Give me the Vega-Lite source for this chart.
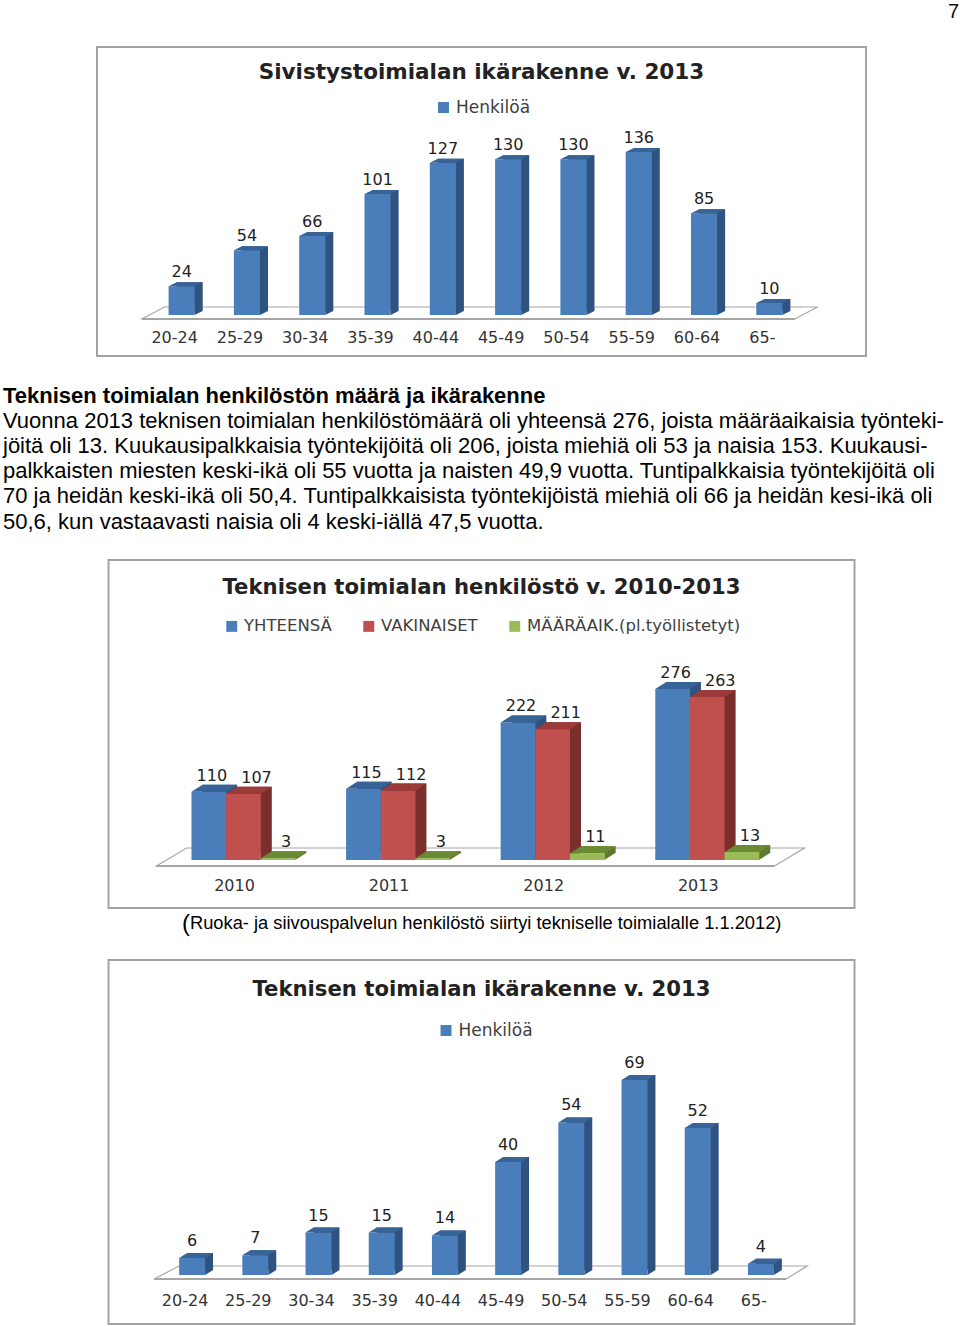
{"$schema":"https://vega.github.io/schema/vega-lite/v6.json","padding":{"left":3,"top":0,"right":0,"bottom":0},"center":true,"spacing":0,"bounds":"flush","background":"white","config":{"font":"DejaVu Sans"},
"resolve":{"scale":{"color":"independent"},"legend":{"color":"independent"}},
"datasets":{
"sivistys":[{"ika":"20-24","henkilot":24,"sarja":"Henkilöä"},{"ika":"25-29","henkilot":54,"sarja":"Henkilöä"},{"ika":"30-34","henkilot":66,"sarja":"Henkilöä"},{"ika":"35-39","henkilot":101,"sarja":"Henkilöä"},{"ika":"40-44","henkilot":127,"sarja":"Henkilöä"},{"ika":"45-49","henkilot":130,"sarja":"Henkilöä"},{"ika":"50-54","henkilot":130,"sarja":"Henkilöä"},{"ika":"55-59","henkilot":136,"sarja":"Henkilöä"},{"ika":"60-64","henkilot":85,"sarja":"Henkilöä"},{"ika":"65-","henkilot":10,"sarja":"Henkilöä"}],
"tekninen":[{"ika":"20-24","henkilot":6,"sarja":"Henkilöä"},{"ika":"25-29","henkilot":7,"sarja":"Henkilöä"},{"ika":"30-34","henkilot":15,"sarja":"Henkilöä"},{"ika":"35-39","henkilot":15,"sarja":"Henkilöä"},{"ika":"40-44","henkilot":14,"sarja":"Henkilöä"},{"ika":"45-49","henkilot":40,"sarja":"Henkilöä"},{"ika":"50-54","henkilot":54,"sarja":"Henkilöä"},{"ika":"55-59","henkilot":69,"sarja":"Henkilöä"},{"ika":"60-64","henkilot":52,"sarja":"Henkilöä"},{"ika":"65-","henkilot":4,"sarja":"Henkilöä"}],
"vuodet":[{"vuosi":"2010","sarja":"YHTEENSÄ","n":110},{"vuosi":"2010","sarja":"VAKINAISET","n":107},{"vuosi":"2010","sarja":"MÄÄRÄAIK.(pl.työllistetyt)","n":3},{"vuosi":"2011","sarja":"YHTEENSÄ","n":115},{"vuosi":"2011","sarja":"VAKINAISET","n":112},{"vuosi":"2011","sarja":"MÄÄRÄAIK.(pl.työllistetyt)","n":3},{"vuosi":"2012","sarja":"YHTEENSÄ","n":222},{"vuosi":"2012","sarja":"VAKINAISET","n":211},{"vuosi":"2012","sarja":"MÄÄRÄAIK.(pl.työllistetyt)","n":11},{"vuosi":"2013","sarja":"YHTEENSÄ","n":276},{"vuosi":"2013","sarja":"VAKINAISET","n":263},{"vuosi":"2013","sarja":"MÄÄRÄAIK.(pl.työllistetyt)","n":13}],
"rivit":[{"rivi":1,"teksti":"Teknisen toimialan henkilöstön määrä ja ikärakenne","paino":"b"},{"rivi":2,"teksti":"Vuonna 2013 teknisen toimialan henkilöstömäärä oli yhteensä 276, joista määräaikaisia työnteki-","paino":"n"},{"rivi":3,"teksti":"jöitä oli 13. Kuukausipalkkaisia työntekijöitä oli 206, joista miehiä oli 53 ja naisia 153. Kuukausi-","paino":"n"},{"rivi":4,"teksti":"palkkaisten miesten keski-ikä oli 55 vuotta ja naisten 49,9 vuotta. Tuntipalkkaisia työntekijöitä oli","paino":"n"},{"rivi":5,"teksti":"70 ja heidän keski-ikä oli 50,4. Tuntipalkkaisista työntekijöistä miehiä oli 66 ja heidän kesi-ikä oli","paino":"n"},{"rivi":6,"teksti":"50,6, kun vastaavasti naisia oli 4 keski-iällä 47,5 vuotta.","paino":"n"}]
},
"vconcat":[
{"width":957,"height":47,"view":{"stroke":null},"data":{"values":[{"sivu":"7"}]},"mark":{"type":"text","font":"Liberation Sans","fontSize":20,"align":"right","baseline":"middle","color":"#111","dx":-1},"encoding":{"text":{"field":"sivu"},"x":{"datum":1,"type":"quantitative","scale":{"domain":[0,1],"range":[0,957]},"axis":null},"y":{"datum":1,"type":"quantitative","scale":{"domain":[0,1],"range":[47,12]},"axis":null}}},
{"width":769,"height":309,"view":{"stroke":"#a3a3a3","strokeWidth":2,"fill":"white"},"data":{"name":"sivistys"},
"title":{"text":"Sivistystoimialan ikärakenne v. 2013","orient":"top","anchor":"middle","offset":-36,"fontSize":21.5,"fontWeight":"bold","font":"DejaVu Sans","color":"#222"},
"encoding":{"x":{"field":"ika","type":"nominal","title":null,"scale":{"domain":["20-24","25-29","30-34","35-39","40-44","45-49","50-54","55-59","60-64","65-"],"range":[52,705],"padding":0},"axis":{"domain":false,"ticks":false,"labelAngle":0,"labelPadding":0,"offset":-27,"labelOffset":-7,"labelFontSize":16,"labelFont":"DejaVu Sans","labelColor":"#333","grid":false}},"y":{"field":"henkilot","type":"quantitative","scale":{"domain":[0,136],"range":[268,105],"nice":false},"axis":null}},
"layer":[
{"transform":[{"filter":"datum.ika=='20-24'"}],"mark":{"type":"point","shape":"M-40,4 L-17,-8 L636,-8 L613,4 Z","size":4,"filled":false,"stroke":"#a6a6a6","strokeWidth":1.2,"opacity":1},"encoding":{"y":{"datum":0}}},
{"transform":[{"filter":"datum.ika=='20-24'"}],"mark":{"type":"point","shape":"M-40,4 L613,4","size":4,"filled":false,"stroke":"#a6a6a6","strokeWidth":2,"opacity":1},"encoding":{"y":{"datum":0}}},
{"mark":{"type":"bar","width":{"band":0.4},"color":"#2f5380","xOffset":8,"yOffset":-4}},
{"mark":{"type":"point","shape":"M13,0 L21,-4 L13,-4 Z","size":4,"filled":true,"fill":"#2f5380","strokeWidth":0,"opacity":1},"encoding":{"y":{"datum":0}}},
{"mark":{"type":"bar","width":{"band":0.4}},"encoding":{"color":{"field":"sarja","type":"nominal","scale":{"range":["#4a7ebb"]},"legend":{"title":null,"orient":"none","legendX":338,"legendY":52,"symbolType":"square","symbolSize":120,"labelFontSize":17,"labelFont":"DejaVu Sans","labelColor":"#404040"}}}},
{"mark":{"type":"point","shape":"M-13,0 L13,0 L21,-4 L-5,-4 Z","size":4,"filled":true,"fill":"#386396","strokeWidth":0,"opacity":1}},
{"mark":{"type":"text","fontSize":16,"font":"DejaVu Sans","dy":-14,"baseline":"middle","color":"#222"},"encoding":{"text":{"field":"henkilot","type":"quantitative"}}}
]},
{"width":957,"height":204,"view":{"stroke":null},"data":{"name":"rivit"},
"encoding":{"x":{"datum":0,"type":"quantitative","scale":{"domain":[0,1],"range":[0,957]},"axis":null},"y":{"field":"rivi","type":"quantitative","scale":{"domain":[1,6],"range":[39.5,165.5]},"axis":null},"text":{"field":"teksti"}},
"layer":[
{"transform":[{"filter":"datum.paino=='b'"}],"mark":{"type":"text","font":"Liberation Sans","fontSize":22,"fontWeight":"bold","align":"left","baseline":"middle","color":"#000"}},
{"transform":[{"filter":"datum.paino=='n'"}],"mark":{"type":"text","font":"Liberation Sans","fontSize":22,"align":"left","baseline":"middle","color":"#000"}}
]},
{"width":746,"height":348,"view":{"stroke":"#a3a3a3","strokeWidth":2,"fill":"white"},"data":{"name":"vuodet"},
"title":{"text":"Teknisen toimialan henkilöstö v. 2010-2013","orient":"top","anchor":"middle","offset":-38,"fontSize":21.2,"fontWeight":"bold","font":"DejaVu Sans","color":"#222"},
"resolve":{"scale":{"color":"independent","xOffset":"independent"}},
"encoding":{"x":{"field":"vuosi","type":"nominal","title":null,"scale":{"domain":["2010","2011","2012","2013"],"range":[57.7,676.1],"paddingInner":0.327,"paddingOuter":0.1635},"axis":{"domain":false,"ticks":false,"labelAngle":0,"labelPadding":0,"offset":-31,"labelOffset":-9,"labelFontSize":16,"labelFont":"DejaVu Sans","labelColor":"#333","grid":false}},"xOffset":{"field":"sarja","type":"nominal","scale":{"type":"band","domain":["YHTEENSÄ","VAKINAISET","MÄÄRÄAIK.(pl.työllistetyt)"],"range":[0,104],"padding":0}},"y":{"field":"n","type":"quantitative","scale":{"domain":[0,276],"range":[300,129],"nice":false},"axis":null}},
"layer":[
{"transform":[{"filter":"datum.vuosi=='2010' && datum.sarja=='VAKINAISET'"}],"mark":{"type":"point","shape":"M-87,6 L-57,-12 L561,-12 L531,6 Z","size":4,"filled":false,"stroke":"#a6a6a6","strokeWidth":1.2,"opacity":1},"encoding":{"y":{"datum":0}}},
{"transform":[{"filter":"datum.vuosi=='2010' && datum.sarja=='VAKINAISET'"}],"mark":{"type":"point","shape":"M-87,6 L531,6","size":4,"filled":false,"stroke":"#a6a6a6","strokeWidth":2,"opacity":1},"encoding":{"y":{"datum":0}}},
{"mark":{"type":"bar","yOffset":-7},"encoding":{"xOffset":{"field":"sarja","type":"nominal","scale":{"type":"band","domain":["YHTEENSÄ","VAKINAISET","MÄÄRÄAIK.(pl.työllistetyt)"],"range":[11,115],"padding":0}},"color":{"field":"sarja","type":"nominal","legend":null,"scale":{"domain":["YHTEENSÄ","VAKINAISET","MÄÄRÄAIK.(pl.työllistetyt)"],"range":["#2f5380","#7b2f2d","#5f7a2e"]}}}},
{"mark":{"type":"point","shape":"M17,0 L28,-7 L17,-7 Z","size":4,"filled":true,"strokeWidth":0,"opacity":1},"encoding":{"y":{"datum":0},"color":{"field":"sarja","type":"nominal","legend":null,"scale":{"domain":["YHTEENSÄ","VAKINAISET","MÄÄRÄAIK.(pl.työllistetyt)"],"range":["#2f5380","#7b2f2d","#5f7a2e"]}}}},
{"mark":{"type":"bar"},"encoding":{"color":{"field":"sarja","type":"nominal","scale":{"domain":["YHTEENSÄ","VAKINAISET","MÄÄRÄAIK.(pl.työllistetyt)"],"range":["#4a7ebb","#c0504d","#9bbb59"]},"legend":{"title":null,"orient":"none","direction":"horizontal","columns":3,"columnPadding":28,"legendX":115,"legendY":58,"symbolType":"square","symbolSize":120,"labelFontSize":16.5,"labelLimit":300,"labelFont":"DejaVu Sans","labelColor":"#404040"}}}},
{"mark":{"type":"point","shape":"M-17.3,0 L17.3,0 L28.3,-7 L-6.3,-7 Z","size":4,"filled":true,"strokeWidth":0,"opacity":1},"encoding":{"color":{"field":"sarja","type":"nominal","legend":null,"scale":{"domain":["YHTEENSÄ","VAKINAISET","MÄÄRÄAIK.(pl.työllistetyt)"],"range":["#386396","#9b3a38","#6a8a33"]}}}},
{"transform":[{"filter":"datum.sarja=='YHTEENSÄ'"}],"mark":{"type":"text","fontSize":16,"font":"DejaVu Sans","dx":3,"dy":-16,"baseline":"middle","color":"#222"},"encoding":{"text":{"field":"n","type":"quantitative"}}},
{"transform":[{"filter":"datum.sarja=='VAKINAISET'"}],"mark":{"type":"text","fontSize":16,"font":"DejaVu Sans","dx":13,"dy":-16,"baseline":"middle","color":"#222"},"encoding":{"text":{"field":"n","type":"quantitative"}}},
{"transform":[{"filter":"datum.sarja=='MÄÄRÄAIK.(pl.työllistetyt)'"}],"mark":{"type":"text","fontSize":16,"font":"DejaVu Sans","dx":8,"dy":-16,"baseline":"middle","color":"#222"},"encoding":{"text":{"field":"n","type":"quantitative"}}}
]},
{"width":957,"height":52,"view":{"stroke":null},"data":{"values":[{"paikka":0.187,"teksti":"("},{"paikka":0.1954,"teksti":"Ruoka- ja siivouspalvelun henkilöstö siirtyi tekniselle toimialalle 1.1.2012)"}]},
"encoding":{"x":{"field":"paikka","type":"quantitative","scale":{"domain":[0,1],"range":[0,957]},"axis":null},"y":{"datum":1,"type":"quantitative","scale":{"domain":[0,1],"range":[52,16]},"axis":null},"text":{"field":"teksti"}},
"layer":[
{"transform":[{"filter":"datum.teksti=='('"}],"mark":{"type":"text","font":"Liberation Sans","fontSize":24,"align":"left","baseline":"middle","color":"#000"}},
{"transform":[{"filter":"datum.teksti!='('"}],"mark":{"type":"text","font":"Liberation Sans","fontSize":18.3,"align":"left","baseline":"middle","color":"#000"}}
]},
{"width":746,"height":364,"view":{"stroke":"#a3a3a3","strokeWidth":2,"fill":"white"},"data":{"name":"tekninen"},
"title":{"text":"Teknisen toimialan ikärakenne v. 2013","orient":"top","anchor":"middle","offset":-40,"fontSize":21.2,"fontWeight":"bold","font":"DejaVu Sans","color":"#222"},
"encoding":{"x":{"field":"ika","type":"nominal","title":null,"scale":{"domain":["20-24","25-29","30-34","35-39","40-44","45-49","50-54","55-59","60-64","65-"],"range":[52,684],"padding":0},"axis":{"domain":false,"ticks":false,"labelAngle":0,"labelPadding":0,"offset":-32,"labelOffset":-7,"labelFontSize":16,"labelFont":"DejaVu Sans","labelColor":"#333","grid":false}},"y":{"field":"henkilot","type":"quantitative","scale":{"domain":[0,69],"range":[315,120],"nice":false},"axis":null}},
"layer":[
{"transform":[{"filter":"datum.ika=='20-24'"}],"mark":{"type":"point","shape":"M-38,4 L-13,-9 L615,-9 L594,4 Z","size":4,"filled":false,"stroke":"#a6a6a6","strokeWidth":1.2,"opacity":1},"encoding":{"y":{"datum":0}}},
{"transform":[{"filter":"datum.ika=='20-24'"}],"mark":{"type":"point","shape":"M-38,4 L594,4","size":4,"filled":false,"stroke":"#a6a6a6","strokeWidth":2,"opacity":1},"encoding":{"y":{"datum":0}}},
{"mark":{"type":"bar","width":{"band":0.41},"color":"#2f5380","xOffset":8,"yOffset":-5}},
{"mark":{"type":"point","shape":"M13,0 L21,-5 L13,-5 Z","size":4,"filled":true,"fill":"#2f5380","strokeWidth":0,"opacity":1},"encoding":{"y":{"datum":0}}},
{"mark":{"type":"bar","width":{"band":0.41}},"encoding":{"color":{"field":"sarja","type":"nominal","scale":{"range":["#4a7ebb"]},"legend":{"title":null,"orient":"none","legendX":329,"legendY":62,"symbolType":"square","symbolSize":120,"labelFontSize":17,"labelFont":"DejaVu Sans","labelColor":"#404040"}}}},
{"mark":{"type":"point","shape":"M-13,0 L13,0 L21,-5 L-5,-5 Z","size":4,"filled":true,"fill":"#386396","strokeWidth":0,"opacity":1}},
{"mark":{"type":"text","fontSize":16,"font":"DejaVu Sans","dy":-17,"baseline":"middle","color":"#222"},"encoding":{"text":{"field":"henkilot","type":"quantitative"}}}
]}
]}
